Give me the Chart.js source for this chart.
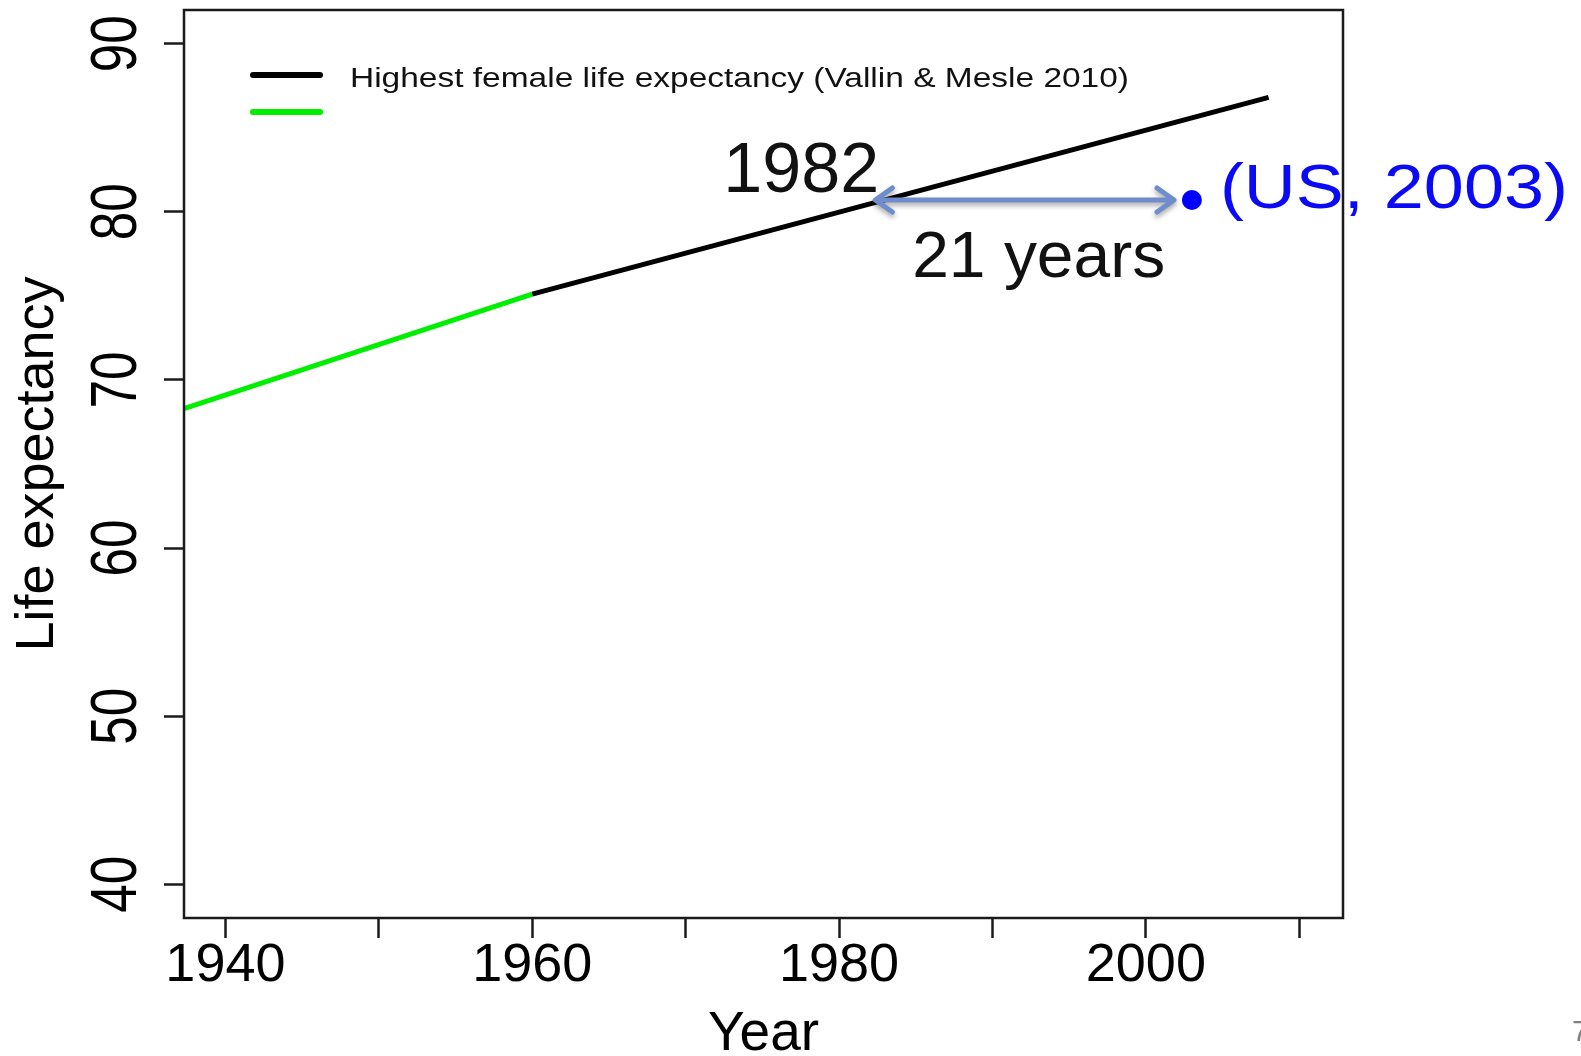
<!DOCTYPE html>
<html>
<head>
<meta charset="utf-8">
<title>Life expectancy</title>
<script src="https://cdn.jsdelivr.net/npm/chart.js@4.4.1/dist/chart.umd.min.js"></script>
<style>
  html, body { margin: 0; padding: 0; background: #fff; }
  #wrap { width: 1581px; height: 1056px; }
</style>
</head>
<body>
<div id="wrap"><canvas id="lifeChart" width="1581" height="1056"></canvas></div>
<script>
// values
var blackYears = [1960, 2008];
var blackLife = [75.1, 86.8];
var greenYears = [1937.3, 1960];
var greenLife = [68.3, 75.1];
var usYear = [2003];
var usLife = [80.7];
var gapFrom = 1982.3;   // arrow ends (years)
var gapTo = 2001.9;
var xTicks = [1940, 1950, 1960, 1970, 1980, 1990, 2000, 2010];
var xLabels = ["1940", "", "1960", "", "1980", "", "2000", ""];
var yTicks = [40, 50, 60, 70, 80, 90];
var legendLabels = ["Highest female life expectancy (Vallin & Mesle 2010)", ""];

var FONT = '"Liberation Sans", Arial, sans-serif';

function toPoints(xs, ys) {
  var out = [];
  for (var i = 0; i < xs.length; i++) out.push({x: xs[i], y: ys[i]});
  return out;
}

// draw text sized by its cap height and stretched to a given width
function fitText(ctx, text, x, y, capH, width, align, color, rotate) {
  var size = capH / 0.716;
  ctx.save();
  ctx.font = size + 'px ' + FONT;
  var m = ctx.measureText(text).width;
  ctx.translate(x, y);
  if (rotate) ctx.rotate(-Math.PI / 2);
  ctx.scale(width / m, 1);
  ctx.textAlign = align;
  ctx.textBaseline = 'alphabetic';
  ctx.fillStyle = color;
  ctx.fillText(text, 0, 0);
  ctx.restore();
}

var extras = {
  id: 'extras',
  afterDatasetsDraw: function(chart) {
    var ctx = chart.ctx, a = chart.chartArea;
    var xs = chart.scales.x, ys = chart.scales.y;

    // R style box
    ctx.save();
    ctx.strokeStyle = '#1a1a1a';
    ctx.lineWidth = 2.5;
    ctx.strokeRect(a.left, a.top, a.right - a.left, a.bottom - a.top);
    ctx.restore();

    // y tick labels, parallel to the axis
    ys.ticks.forEach(function(t) {
      fitText(ctx, String(t.value), a.left - 48, ys.getPixelForValue(t.value), 46, 57, 'center', '#000', true);
    });

    // legend
    var ds = chart.data.datasets;
    for (var i = 0; i < 2; i++) {
      var ly = a.top + 65 + i * 37;
      ctx.save();
      ctx.strokeStyle = ds[i].borderColor;
      ctx.lineWidth = 6;
      ctx.lineCap = 'round';
      ctx.beginPath();
      ctx.moveTo(a.left + 69, ly);
      ctx.lineTo(a.left + 136, ly);
      ctx.stroke();
      ctx.restore();
      if (legendLabels[i]) {
        fitText(ctx, legendLabels[i], a.left + 166, ly + 11.7, 19.4, 779, 'left', '#111', false);
      }
    }

    // arrow between 1982 and the US point
    var ay = ys.getPixelForValue(usLife[0]);
    var x1 = xs.getPixelForValue(gapFrom), x2 = xs.getPixelForValue(gapTo);
    ctx.save();
    ctx.strokeStyle = '#6f8dcc';
    ctx.lineWidth = 5;
    ctx.lineCap = 'round';
    ctx.lineJoin = 'round';
    ctx.shadowColor = 'rgba(0,0,0,0.35)';
    ctx.shadowBlur = 5;
    ctx.shadowOffsetY = 3;
    ctx.beginPath();
    ctx.moveTo(x1 + 2, ay); ctx.lineTo(x2 - 2, ay);
    ctx.moveTo(x1 + 18, ay - 12); ctx.lineTo(x1 + 1, ay); ctx.lineTo(x1 + 18, ay + 12);
    ctx.moveTo(x2 - 18, ay - 12); ctx.lineTo(x2 - 1, ay); ctx.lineTo(x2 - 18, ay + 12);
    ctx.stroke();
    ctx.restore();

    fitText(ctx, '1982', x1 + 5, ay - 8, 50, 156, 'right', '#111', false);
    fitText(ctx, '21 years', (x1 + x2) / 2 + 14, ay + 77, 46.5, 253, 'center', '#111', false);
    var ux = xs.getPixelForValue(usYear[0]);
    fitText(ctx, '(US, 2003)', ux + 28, ay + 8, 45, 348, 'left', '#0a0af5', false);

    // slide page number
    ctx.save();
    ctx.font = '30px ' + FONT;
    ctx.fillStyle = '#808080';
    ctx.textAlign = 'left';
    ctx.fillText('7', 1572, 1041);
    ctx.restore();
  }
};

var ctx = document.getElementById('lifeChart').getContext('2d');
var chart = new Chart(ctx, {
  type: 'line',
  data: {
    datasets: [
      {
        label: legendLabels[0],
        data: toPoints(blackYears, blackLife),
        borderColor: '#000000',
        borderWidth: 5,
        pointRadius: 0,
        fill: false
      },
      {
        label: legendLabels[1],
        data: toPoints(greenYears, greenLife),
        borderColor: '#00ee00',
        borderWidth: 5,
        pointRadius: 0,
        fill: false
      },
      {
        label: 'US 2003',
        data: toPoints(usYear, usLife),
        showLine: false,
        borderColor: '#0000ff',
        backgroundColor: '#0000ff',
        pointRadius: 10,
        pointBorderWidth: 0
      }
    ]
  },
  options: {
    responsive: false,
    devicePixelRatio: 1,
    animation: false,
    layout: { padding: { top: 10, right: 238, left: 0, bottom: 0 } },
    plugins: {
      legend: { display: false },
      tooltip: { enabled: false }
    },
    scales: {
      x: {
        type: 'linear',
        position: 'bottom',
        min: 1937.3,
        max: 2012.85,
        afterBuildTicks: function(scale) {
          scale.ticks = xTicks.map(function(v) { return {value: v}; });
        },
        afterFit: function(scale) { scale.height = 138; },
        grid: { drawOnChartArea: false, drawTicks: true, tickLength: 20, tickWidth: 2.5, tickColor: '#1a1a1a' },
        border: { display: false },
        ticks: {
          autoSkip: false,
          maxRotation: 0,
          padding: 1,
          color: '#000',
          font: { family: FONT, size: 54, lineHeight: 1 },
          callback: function(value, index) { return xLabels[index]; }
        },
        title: {
          display: true,
          text: 'Year',
          color: '#000',
          font: { family: FONT, size: 55, lineHeight: 0.76 },
          padding: 0
        }
      },
      y: {
        type: 'linear',
        min: 38,
        max: 92,
        afterBuildTicks: function(scale) {
          scale.ticks = yTicks.map(function(v) { return {value: v}; });
        },
        afterFit: function(scale) { scale.width = 184; },
        grid: { drawOnChartArea: false, drawTicks: true, tickLength: 20, tickWidth: 2.5, tickColor: '#1a1a1a' },
        border: { display: false },
        ticks: { display: false },
        title: {
          display: true,
          text: 'Life expectancy',
          color: '#000',
          font: { family: FONT, size: 54, lineHeight: 1.2 },
          padding: { top: 6, bottom: 0 }
        }
      }
    }
  },
  plugins: [extras]
});
</script>
</body>
</html>
